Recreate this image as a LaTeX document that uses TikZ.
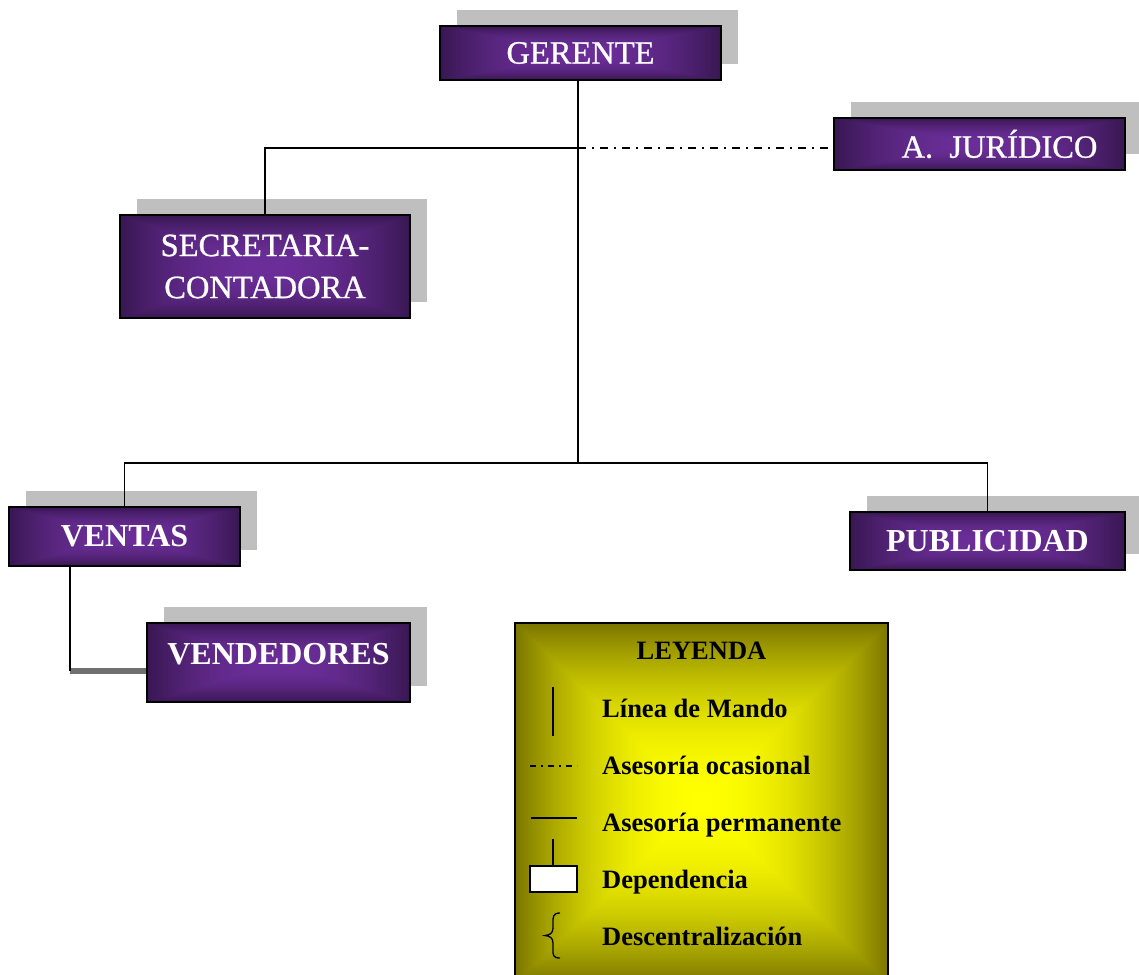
\documentclass[tikz,border=0pt]{standalone}
\usepackage{fontspec}
\setmainfont{Liberation Serif}
\usetikzlibrary{shadows}

\definecolor{shadowgray}{RGB}{191,191,191}
\definecolor{bargray}{RGB}{112,112,112}

% rectangular "from centre" glow: light in the middle, dark toward every edge
\pgfdeclarefunctionalshading{purpglow}{\pgfpoint{-50bp}{-50bp}}{\pgfpoint{50bp}{50bp}}{}{
  abs exch abs 2 copy lt {exch} if pop 25 div dup 1 gt {pop 1} if dup mul
  dup -0.20 mul 0.42 add exch
  dup -0.09 mul 0.18 add exch
  -0.28 mul 0.60 add
}
\pgfdeclarefunctionalshading{legendglow}{\pgfpoint{-50bp}{-50bp}}{\pgfpoint{50bp}{50bp}}{}{
  abs exch abs 2 copy lt {exch} if pop 25 div dup 1 gt {pop 1} if dup mul
  dup -0.52 mul 1.00 add exch
  dup -0.54 mul 1.00 add exch
  0 mul 0.00 add
}

\begin{document}
\begin{tikzpicture}[x=1pt,y=-1pt,
  orgbox/.style={draw=black, line width=1.2pt, shade, shading=purpglow, text=white,
    inner sep=0pt, align=center,
    general shadow={fill=shadowgray, draw=none, shadow xshift=17pt, shadow yshift=16pt}},
  plainlbl/.style={font=\fontsize{32.5}{42}\selectfont\addfontfeature{FakeBold=0.8}},
  boldlbl/.style={font=\fontsize{32}{40}\selectfont\bfseries},
  cmd/.style={draw=black, line width=1.4pt},
  occ/.style={draw=black, line width=1.5pt, dash pattern=on 8pt off 6pt on 2pt off 6pt},
  depbar/.style={draw=bargray, line width=6pt},
  legtext/.style={font=\fontsize{26.5}{30}\selectfont\bfseries, text=black, inner sep=0pt, anchor=base west},
]
\useasboundingbox (0,0) rectangle (1139,974);

% legend panel (runs past the lower edge)
\node[draw=black, line width=1.2pt, shade, shading=legendglow, inner sep=0pt,
      minimum width=373pt, minimum height=360pt] (legend) at (701.5,803) {};

% organisation boxes
\node[orgbox, plainlbl, minimum width=281pt, minimum height=54pt] (ger) at (580.5,53) {GERENTE};
\node[orgbox, plainlbl, minimum width=291pt, minimum height=52pt] (jur) at (979.5,144) {\hspace*{40pt}A.~~JURÍDICO};
\node[orgbox, plainlbl, minimum width=290pt, minimum height=103pt] (sec) at (265,266.5) {SECRETARIA-\\CONTADORA};
\node[orgbox, boldlbl, minimum width=231pt, minimum height=59pt] (ventas) at (124.5,536.5) {VENTAS};
\node[orgbox, boldlbl, minimum width=275pt, minimum height=58pt] (pub) at (987.5,541) {PUBLICIDAD};
\node[orgbox, boldlbl, text depth=18pt, minimum width=263pt, minimum height=79pt] (vend) at (278.5,662.5) {VENDEDORES};

% connectors
\coordinate (hub) at (578,463);
\coordinate (staff) at (578,148);
\coordinate (vk) at (70,671);
\draw[cmd] (ger.south -| hub) -- (hub);
\draw[cmd] (staff) -| (sec.north);
\draw[occ] (staff) -- (staff -| jur.west);
\draw[cmd] (hub) -| (ventas.north);
\draw[cmd] (hub) -| (pub.north);
\draw[depbar] (vk) -- (vk -| vend.west);
\draw[cmd] (ventas.south -| vk) -- (vk);

% legend contents
\node[legtext, anchor=base] (legtitle) at (701.5,659) {LEYENDA};
\draw[cmd] (553,687) -- (553,736);
\node[legtext] (legmando) at (602,717) {Línea de Mando};
\draw[draw=black, line width=1.3pt, dash pattern=on 6pt off 5pt on 2pt off 5pt] (530,766) -- (577,766);
\node[legtext] (legocas) at (602,774) {Asesoría ocasional};
\draw[cmd] (531,818) -- (577,818);
\node[legtext] (legperm) at (602,831) {Asesoría permanente};
\draw[cmd] (553,839) -- (553,866);
\draw[draw=black, line width=1.5pt, fill=white] (530,866) rectangle (577,892);
\node[legtext] (legdep) at (602,888) {Dependencia};
\draw[draw=black, line width=1.3pt]
  (560,913) .. controls (553,913) and (553,917) .. (553,922) -- (553,928)
  .. controls (553,933) and (550,935) .. (545,935.5)
  .. controls (550,936) and (553,938) .. (553,943) -- (553,950)
  .. controls (553,955) and (553,958) .. (560,958);
\node[legtext] (legdesc) at (602,945) {Descentralización};
\end{tikzpicture}
\end{document}
